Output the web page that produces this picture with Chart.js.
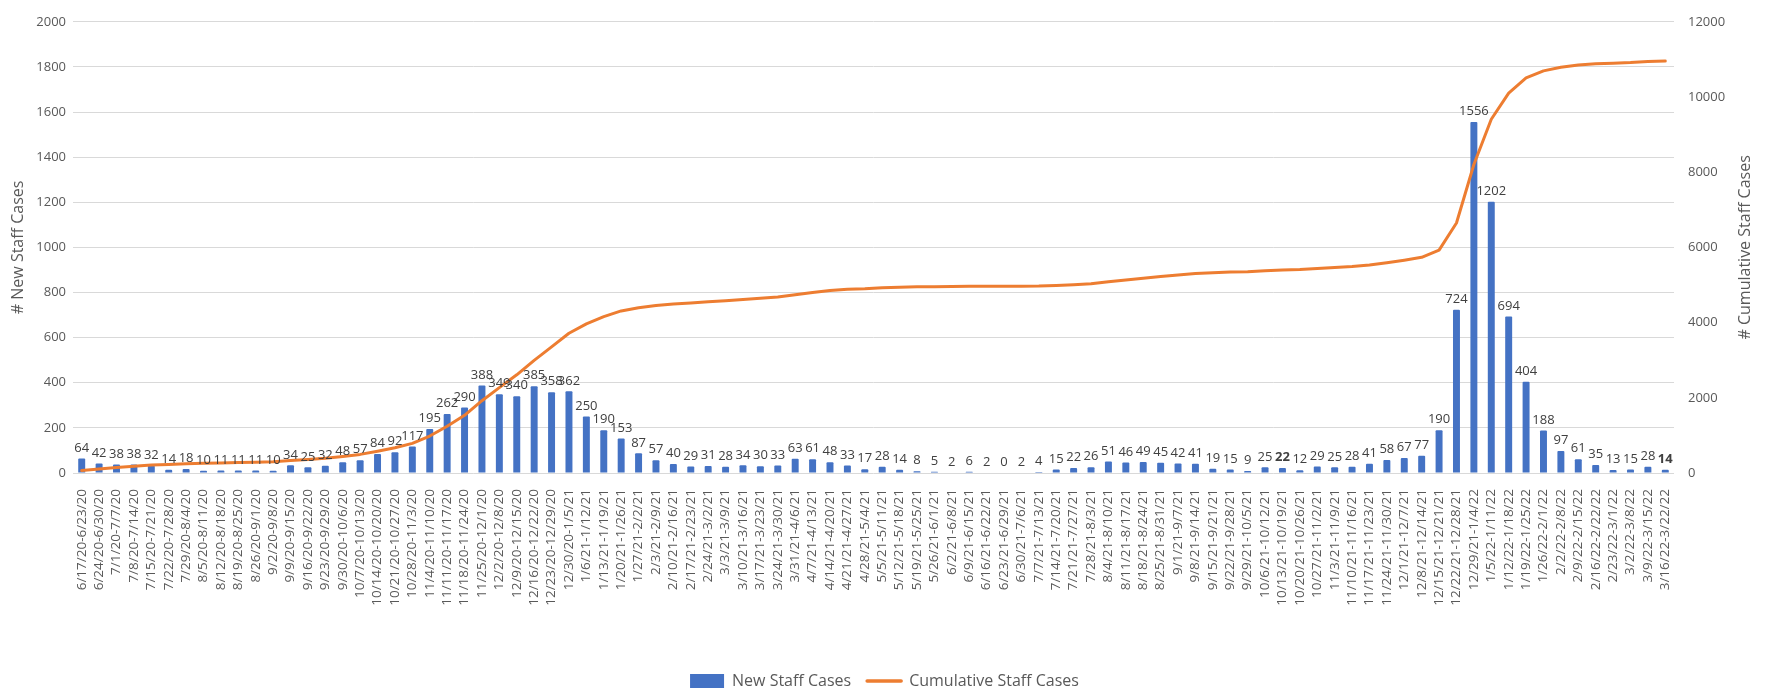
<!DOCTYPE html>
<html>
<head>
<meta charset="utf-8">
<script src="https://cdn.jsdelivr.net/npm/chart.js@4.4.1/dist/chart.umd.min.js"></script>
<style>
  html, body { margin: 0; padding: 0; background: #ffffff; }
  #wrap { width: 1769px; height: 694px; }
</style>
</head>
<body>
<div id="wrap"><canvas id="c" width="1769" height="694"></canvas></div>
<script>
const weekLabels = [
  "6/17/20-6/23/20","6/24/20-6/30/20","7/1/20-7/7/20","7/8/20-7/14/20","7/15/20-7/21/20","7/22/20-7/28/20",
  "7/29/20-8/4/20","8/5/20-8/11/20","8/12/20-8/18/20","8/19/20-8/25/20","8/26/20-9/1/20","9/2/20-9/8/20",
  "9/9/20-9/15/20","9/16/20-9/22/20","9/23/20-9/29/20","9/30/20-10/6/20","10/7/20-10/13/20","10/14/20-10/20/20",
  "10/21/20-10/27/20","10/28/20-11/3/20","11/4/20-11/10/20","11/11/20-11/17/20","11/18/20-11/24/20","11/25/20-12/1/20",
  "12/2/20-12/8/20","12/9/20-12/15/20","12/16/20-12/22/20","12/23/20-12/29/20","12/30/20-1/5/21","1/6/21-1/12/21",
  "1/13/21-1/19/21","1/20/21-1/26/21","1/27/21-2/2/21","2/3/21-2/9/21","2/10/21-2/16/21","2/17/21-2/23/21",
  "2/24/21-3/2/21","3/3/21-3/9/21","3/10/21-3/16/21","3/17/21-3/23/21","3/24/21-3/30/21","3/31/21-4/6/21",
  "4/7/21-4/13/21","4/14/21-4/20/21","4/21/21-4/27/21","4/28/21-5/4/21","5/5/21-5/11/21","5/12/21-5/18/21",
  "5/19/21-5/25/21","5/26/21-6/1/21","6/2/21-6/8/21","6/9/21-6/15/21","6/16/21-6/22/21","6/23/21-6/29/21",
  "6/30/21-7/6/21","7/7/21-7/13/21","7/14/21-7/20/21","7/21/21-7/27/21","7/28/21-8/3/21","8/4/21-8/10/21",
  "8/11/21-8/17/21","8/18/21-8/24/21","8/25/21-8/31/21","9/1/21-9/7/21","9/8/21-9/14/21","9/15/21-9/21/21",
  "9/22/21-9/28/21","9/29/21-10/5/21","10/6/21-10/12/21","10/13/21-10/19/21","10/20/21-10/26/21","10/27/21-11/2/21",
  "11/3/21-11/9/21","11/10/21-11/16/21","11/17/21-11/23/21","11/24/21-11/30/21","12/1/21-12/7/21","12/8/21-12/14/21",
  "12/15/21-12/21/21","12/22/21-12/28/21","12/29/21-1/4/22","1/5/22-1/11/22","1/12/22-1/18/22","1/19/22-1/25/22",
  "1/26/22-2/1/22","2/2/22-2/8/22","2/9/22-2/15/22","2/16/22-2/22/22","2/23/22-3/1/22","3/2/22-3/8/22",
  "3/9/22-3/15/22","3/16/22-3/22/22"
];

const newStaffCases = [
  64, 42, 38, 38, 32, 14, 18, 10, 11, 11, 11, 10,
  34, 25, 32, 48, 57, 84, 92, 117, 195, 262, 290, 388,
  349, 340, 385, 358, 362, 250, 190, 153, 87, 57, 40, 29,
  31, 28, 34, 30, 33, 63, 61, 48, 33, 17, 28, 14,
  8, 5, 2, 6, 2, 0, 2, 4, 15, 22, 26, 51,
  46, 49, 45, 42, 41, 19, 15, 9, 25, 22, 12, 29,
  25, 28, 41, 58, 67, 77, 190, 724, 1556, 1202, 694, 404,
  188, 97, 61, 35, 13, 15, 28, 14
];

const cumulativeStaffCases = [
  64, 106, 144, 182, 214, 228, 246, 256, 267, 278, 289, 299,
  333, 358, 390, 438, 495, 579, 671, 788, 983, 1245, 1535, 1923,
  2272, 2612, 2997, 3355, 3717, 3967, 4157, 4310, 4397, 4454, 4494, 4523,
  4554, 4582, 4616, 4646, 4679, 4742, 4803, 4851, 4884, 4901, 4929, 4943,
  4951, 4956, 4958, 4964, 4966, 4966, 4968, 4972, 4987, 5009, 5035, 5086,
  5132, 5181, 5226, 5268, 5309, 5328, 5343, 5352, 5377, 5399, 5411, 5440,
  5465, 5493, 5534, 5592, 5659, 5736, 5926, 6650, 8206, 9408, 10102, 10506,
  10694, 10791, 10852, 10887, 10900, 10915, 10943, 10957
];

const boldLabelIndices = [69, 91];
const seriesNames = ["New Staff Cases", "Cumulative Staff Cases"];
const axisTitles = ["# New Staff Cases", "# Cumulative Staff Cases"];

const FONT = '"Open Sans", "DejaVu Sans", sans-serif';
const TEXT = '#595959';
const LABEL = '#404040';
const BLUE = '#4472C4';
const ORANGE = '#ED7D31';
const FS = 13;

const barLabels = {
  id: 'barLabels',
  afterDatasetsDraw(chart) {
    const meta = chart.getDatasetMeta(0);
    const ctx = chart.ctx;
    ctx.save();
    ctx.textAlign = 'center';
    ctx.textBaseline = 'bottom';
    ctx.fillStyle = LABEL;
    meta.data.forEach((bar, i) => {
      const bold = boldLabelIndices.includes(i);
      ctx.font = (bold ? 'bold ' : '') + FS + 'px ' + FONT;
      ctx.fillText(String(newStaffCases[i]), bar.x, bar.y - 4);
    });
    ctx.restore();
  }
};

const rightTitle = {
  id: 'rightTitle',
  afterDraw(chart) {
    const ctx = chart.ctx;
    const ca = chart.chartArea;
    ctx.save();
    ctx.translate(1745, (ca.top + ca.bottom) / 2);
    ctx.rotate(-Math.PI / 2);
    ctx.textAlign = 'center';
    ctx.textBaseline = 'middle';
    ctx.fillStyle = TEXT;
    ctx.font = '16px ' + FONT;
    ctx.fillText(axisTitles[1], 0, 0);
    ctx.restore();
  }
};

const legendShift = {
  id: 'legendShift',
  afterLayout(chart) {
    if (chart.legend) {
      chart.legend.top += 5;
      chart.legend.bottom += 5;
    }
  }
};

const plainNumber = (v) => String(v);

new Chart(document.getElementById('c'), {
  data: {
    labels: weekLabels,
    datasets: [
      {
        type: 'bar',
        label: seriesNames[0],
        data: newStaffCases,
        backgroundColor: BLUE,
        borderWidth: 0,
        borderRadius: 1,
        barPercentage: 0.4,
        categoryPercentage: 1.0,
        yAxisID: 'y',
        order: 1
      },
      {
        type: 'line',
        label: seriesNames[1],
        data: cumulativeStaffCases,
        borderColor: ORANGE,
        backgroundColor: ORANGE,
        borderWidth: 3,
        borderCapStyle: 'round',
        borderJoinStyle: 'round',
        pointRadius: 0,
        pointHoverRadius: 0,
        tension: 0,
        fill: false,
        yAxisID: 'y1',
        order: 0
      }
    ]
  },
  options: {
    responsive: false,
    devicePixelRatio: 1,
    animation: false,
    layout: { padding: { top: 11, left: 0, right: 0, bottom: 0 } },
    plugins: {
      tooltip: { enabled: false },
      legend: {
        position: 'bottom',
        labels: {
          usePointStyle: true,
          pointStyleWidth: 34,
          boxHeight: 14,
          padding: 16,
          color: TEXT,
          font: { family: FONT, size: 16 },
          generateLabels() {
            return [
              { text: seriesNames[0], fillStyle: BLUE, strokeStyle: BLUE, lineWidth: 0, pointStyle: 'rect', hidden: false, datasetIndex: 0, fontColor: TEXT },
              { text: seriesNames[1], fillStyle: ORANGE, strokeStyle: ORANGE, lineWidth: 3.5, lineCap: 'round', pointStyle: 'line', hidden: false, datasetIndex: 1, fontColor: TEXT }
            ];
          }
        }
      }
    },
    scales: {
      x: {
        offset: true,
        grid: { display: false },
        border: { display: false },
        ticks: {
          autoSkip: false,
          maxRotation: 90,
          minRotation: 90,
          padding: 8,
          color: TEXT,
          font: { family: FONT, size: 13.5 }
        },
        afterFit(s) { s.height = 179; }
      },
      y: {
        position: 'left',
        min: 0,
        max: 2000,
        ticks: { stepSize: 200, padding: 7, color: TEXT, font: { family: FONT, size: FS }, callback: plainNumber },
        grid: { color: '#D9D9D9', lineWidth: 1, drawTicks: false },
        border: { display: false },
        title: {
          display: true,
          text: axisTitles[0],
          color: TEXT,
          font: { family: FONT, size: 16 },
          padding: { top: 9, bottom: 0 }
        },
        afterFit(s) { s.width = 73; }
      },
      y1: {
        position: 'right',
        min: 0,
        max: 12000,
        ticks: { stepSize: 2000, padding: 14, color: TEXT, font: { family: FONT, size: FS }, callback: plainNumber },
        grid: { display: false, drawTicks: false },
        border: { display: false },
        afterFit(s) { s.width = 95; }
      }
    }
  },
  plugins: [barLabels, rightTitle, legendShift]
});
</script>
</body>
</html>
